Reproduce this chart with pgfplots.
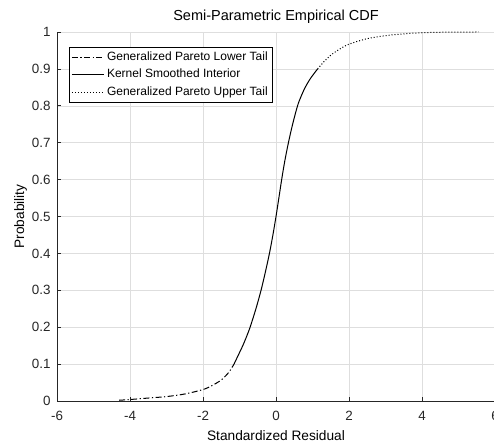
\documentclass[border=0pt]{standalone}
\usepackage{fontspec}
\setmainfont{Liberation Sans}
\usepackage{pgfplots}
\pgfplotsset{compat=1.18}

\begin{document}
\begin{tikzpicture}
\begin{axis}[
  at={(57pt,42pt)}, anchor=south west,
  scale only axis, width=438pt, height=369pt,
  xmin=-6, xmax=6, ymin=0, ymax=1,
  xtick={-6,-4,...,6},
  ytick={0,0.1,...,1.01},
  axis lines=left,
  axis line style={-, color=black!85, line width=0.6pt},
  tick align=inside,
  major tick length=4.4pt,
  tick style={color=black!85, line width=0.6pt},
  grid=major,
  major grid style={color=black!13, line width=0.5pt},
  /pgf/number format/assume math mode=true,
  tick label style={font=\fontsize{13.4}{16}\selectfont, color=black!85},
  yticklabel style={xshift=-3pt},
  xticklabel style={yshift=-7pt},
  title={Semi-Parametric Empirical CDF},
  title style={at={(axis description cs:0.5,1.0144)}, anchor=base,
               font=\fontsize{14.5}{17}\selectfont},
  xlabel={Standardized Residual},
  xlabel style={at={(axis description cs:0.5,-0.107)}, anchor=base,
                font=\fontsize{13.7}{16}\selectfont},
  ylabel={Probability},
  ylabel style={at={(axis description cs:-0.0753,0.5)}, anchor=base,
                font=\fontsize{13.7}{16}\selectfont},
  legend cell align=left,
  legend style={at={(0,1)}, anchor=north west, xshift=12pt, yshift=-15pt,
                font=\fontsize{12}{14}\selectfont, draw=black, line width=0.6pt,
                inner xsep=2pt, inner ysep=1.5pt, row sep=0pt,
                nodes={inner sep=2.7pt, text height=9pt, text depth=3pt}},
  legend image code/.code={\draw[#1] (0pt,0pt) -- (32pt,0pt);},
]
% lower tail (generalized Pareto)
\addplot[black, line width=1pt, smooth,
         dash pattern=on 6pt off 2.5pt on 1.2pt off 2.5pt] coordinates {
  (-4.30,0.002) (-4.00,0.004) (-3.50,0.008) (-3.00,0.012) (-2.50,0.019)
  (-2.00,0.031) (-1.75,0.042) (-1.50,0.057) (-1.30,0.077) (-1.15,0.100)
};
\addlegendentry{Generalized Pareto Lower Tail}
% kernel-smoothed interior
\addplot[black, line width=1pt, smooth] coordinates {
  (-1.15,0.100) (-1.03,0.125) (-0.91,0.150) (-0.805,0.175) (-0.71,0.200)
  (-0.55,0.250) (-0.41,0.300) (-0.29,0.350) (-0.18,0.400) (-0.085,0.450)
  (0.00,0.500) (0.078,0.550) (0.155,0.600) (0.24,0.650) (0.34,0.700)
  (0.455,0.750) (0.59,0.800) (0.685,0.825) (0.80,0.850) (0.95,0.875)
  (1.14,0.900)
};
\addlegendentry{Kernel Smoothed Interior}
% upper tail (generalized Pareto)
\addplot[black, line width=1pt, smooth,
         dash pattern=on 1pt off 2pt] coordinates {
  (1.14,0.900) (1.30,0.918) (1.50,0.937) (1.75,0.954) (2.00,0.967)
  (2.50,0.982) (3.00,0.990) (3.50,0.995) (4.00,0.998) (4.50,0.9993)
  (5.00,0.9998) (5.55,1.000)
};
\addlegendentry{Generalized Pareto Upper Tail}
\end{axis}
\pgfresetboundingbox
\useasboundingbox (0pt,0pt) rectangle (494pt,443pt);
\end{tikzpicture}
\end{document}
